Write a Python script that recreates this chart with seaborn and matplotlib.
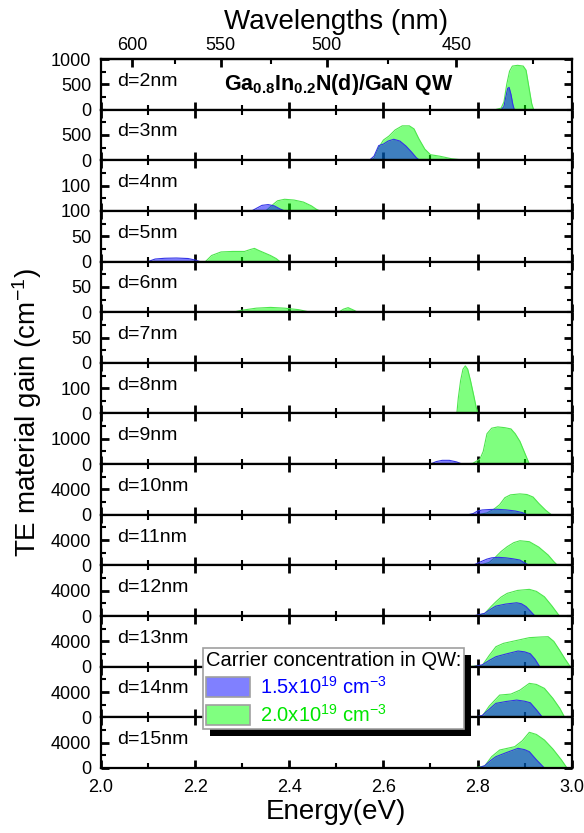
import numpy as np
import matplotlib
matplotlib.use("Agg")
import matplotlib.pyplot as plt
import seaborn as sns
from matplotlib.patches import Patch, Rectangle
from matplotlib.ticker import MultipleLocator, FixedLocator, FormatStrFormatter
from matplotlib.transforms import IdentityTransform

# -----------------------------
# Data
# -----------------------------
widths = [2, 3, 4, 5, 6, 7, 8, 9, 10, 11, 12, 13, 14, 15]
y_max = [1000, 1000, 200, 100, 100, 100, 200, 2000, 8000, 8000, 8000, 8000, 8000, 8000]
y_ticks = [[0, 500, 1000], [0, 500], [0, 100], [0, 50], [0, 50], [0, 50], [0, 100], [0, 1000],
           [0, 4000], [0, 4000], [0, 4000], [0, 4000], [0, 4000], [0, 4000]]
y_ticklabels = [["0", "500", "1000"], ["0", "500"], ["100", "100"], ["0", "50"], ["0", "50"], ["0", "50"],
                ["0", "100"], ["0", "1000"], ["0", "4000"], ["0", "4000"], ["0", "4000"], ["0", "4000"],
                ["0", "4000"], ["0", "4000"]]

# n = 2.0e19 cm^-3 (green)
e_hi = {
    2: [2.35, 2.838, 2.850, 2.856, 2.862, 2.868, 2.874, 2.885, 2.897, 2.903, 2.909, 2.915, 2.919],
    3: [2.10, 2.570, 2.580, 2.590, 2.600, 2.612, 2.625, 2.640, 2.655, 2.665, 2.675, 2.688, 2.700, 2.720, 2.745, 2.775],
    4: [2.350, 2.362, 2.375, 2.390, 2.410, 2.430, 2.447, 2.458, 2.465],
    5: [2.222, 2.235, 2.255, 2.280, 2.305, 2.318, 2.326, 2.335, 2.345, 2.360, 2.372, 2.380],
    6: [2.28, 2.300, 2.330, 2.360, 2.390, 2.420, 2.445, 2.505, 2.515, 2.525, 2.537, 2.545],
    7: [2.0, 3.0],
    8: [2.756, 2.759, 2.764, 2.769, 2.774, 2.779, 2.785, 2.792, 2.797, 2.801],
    9: [2.760, 2.790, 2.805, 2.812, 2.820, 2.830, 2.843, 2.858, 2.871, 2.880, 2.890, 2.900, 2.910],
    10: [2.800, 2.820, 2.835, 2.847, 2.858, 2.870, 2.890, 2.905, 2.918, 2.930, 2.945, 2.957],
    11: [2.805, 2.825, 2.839, 2.850, 2.863, 2.877, 2.890, 2.910, 2.930, 2.950, 2.962, 2.970],
    12: [2.795, 2.815, 2.830, 2.839, 2.850, 2.863, 2.885, 2.910, 2.925, 2.942, 2.958, 2.974],
    13: [2.780, 2.810, 2.825, 2.839, 2.855, 2.880, 2.910, 2.935, 2.950, 2.962, 2.974, 2.986, 2.997],
    14: [2.780, 2.810, 2.825, 2.847, 2.871, 2.890, 2.910, 2.925, 2.942, 2.960, 2.975, 2.985],
    15: [2.790, 2.815, 2.830, 2.847, 2.879, 2.895, 2.910, 2.925, 2.942, 2.960, 2.978, 2.990],
}
g_hi = {
    2: [0, 0, 30, 150, 500, 760, 860, 875, 860, 780, 450, 120, 0],
    3: [0, 0, 40, 250, 400, 480, 600, 680, 680, 620, 430, 220, 110, 80, 30, 0],
    4: [0, 20, 40, 46, 43, 35, 20, 6, 0],
    5: [0, 12, 19, 20, 20, 24, 26, 22, 18, 12, 6, 0],
    6: [0, 4, 8, 9.5, 8, 5, 0, 0, 6, 9, 4, 0],
    7: [0, 0],
    8: [0, 60, 130, 175, 188, 175, 130, 70, 25, 0],
    9: [0, 30, 200, 500, 1200, 1420, 1470, 1440, 1390, 1200, 900, 450, 0],
    10: [0, 300, 900, 1600, 2700, 3150, 3300, 3200, 2800, 1800, 700, 0],
    11: [0, 500, 1380, 2200, 2960, 3600, 3900, 3750, 2900, 1640, 600, 0],
    12: [0, 400, 1600, 2260, 3000, 3590, 4050, 4220, 3900, 3050, 1600, 0],
    13: [0, 200, 1800, 3160, 3690, 4100, 4590, 4700, 4740, 4000, 2640, 1200, 0],
    14: [0, 200, 1800, 3520, 3680, 4300, 5370, 5200, 4580, 3000, 1400, 0],
    15: [0, 300, 1800, 2840, 3370, 4300, 5640, 5300, 4420, 3000, 1300, 0],
}

# n = 1.5e19 cm^-3 (blue)
e_lo = {
    2: [2.850, 2.856, 2.860, 2.864, 2.867, 2.871, 2.875, 2.878],
    3: [2.08, 2.570, 2.580, 2.590, 2.600, 2.610, 2.622, 2.635, 2.648, 2.660, 2.670, 2.677],
    4: [2.00, 2.320, 2.330, 2.342, 2.355, 2.368, 2.380, 2.390],
    5: [2.100, 2.115, 2.135, 2.160, 2.185, 2.200, 2.210],
    6: [2.0, 2.6],
    7: [2.0, 3.0],
    8: [2.0, 3.0],
    9: [2.04, 2.21, 2.70, 2.712, 2.725, 2.740, 2.755, 2.768],
    10: [2.17, 2.78, 2.791, 2.800, 2.810, 2.825, 2.840, 2.860, 2.880, 2.895, 2.905],
    11: [2.25, 2.79, 2.807, 2.820, 2.830, 2.843, 2.860, 2.875, 2.890, 2.900, 2.910],
    12: [2.20, 2.79, 2.815, 2.828, 2.839, 2.860, 2.883, 2.893, 2.903, 2.912, 2.922],
    13: [2.30, 2.79, 2.810, 2.825, 2.839, 2.860, 2.886, 2.900, 2.912, 2.922, 2.932],
    14: [2.30, 2.79, 2.810, 2.825, 2.839, 2.860, 2.883, 2.900, 2.912, 2.925, 2.938],
    15: [2.30, 2.80, 2.815, 2.828, 2.839, 2.860, 2.886, 2.900, 2.910, 2.925, 2.942],
}
g_lo = {
    2: [0, 60, 250, 420, 440, 300, 100, 0],
    3: [0, 0, 80, 290, 320, 380, 415, 380, 280, 160, 50, 0],
    4: [0, 0, 10, 22, 25, 20, 8, 0],
    5: [0, 5, 6.5, 7, 6, 3, 0],
    6: [0, 0],
    7: [0, 0],
    8: [0, 0],
    9: [0, 0, 0, 100, 150, 150, 90, 0],
    10: [0, 0, 200, 600, 760, 830, 870, 780, 600, 350, 0],
    11: [0, 0, 590, 1000, 1200, 1280, 1200, 1050, 850, 400, 0],
    12: [0, 0, 430, 1100, 1580, 1900, 2100, 1950, 1500, 800, 0],
    13: [0, 0, 300, 1000, 1580, 2000, 2480, 2350, 2050, 1200, 0],
    14: [0, 0, 300, 1300, 2210, 2500, 2730, 2550, 2310, 1200, 0],
    15: [0, 0, 350, 1200, 1790, 2400, 3110, 2900, 2580, 1300, 0],
}

wl_major = [600, 550, 500, 450]
wl_minor = [575, 525, 475, 425]
legend_labels = ["1.5x10$^{19}$ cm$^{-3}$", "2.0x10$^{19}$ cm$^{-3}$"]

# -----------------------------
# Style
# -----------------------------
sns.set_style("ticks")
plt.rcParams.update({
    "font.family": ["Liberation Sans", "DejaVu Sans"],
    "mathtext.fontset": "custom",
    "mathtext.rm": "Liberation Sans",
    "mathtext.it": "Liberation Sans:italic",
    "mathtext.bf": "Liberation Sans:bold",
    "text.color": "black",
    "axes.labelcolor": "black",
    "axes.edgecolor": "black",
    "xtick.color": "black",
    "ytick.color": "black",
    "xtick.direction": "in",
    "ytick.direction": "in",
})

GREEN_FILL = (0, 1, 0, 0.5)
BLUE_FILL = (0, 0, 1, 0.5)
TICK_C = (0.0, 0.0, 0.0)

W, H = 584, 833
fig = plt.figure(figsize=(W / 100, H / 100), dpi=100)
gs = fig.add_gridspec(len(widths), 1, left=101 / W, right=571.7 / W,
                      bottom=1 - 768 / H, top=1 - 59 / H, hspace=0)
axes = [fig.add_subplot(gs[i]) for i in range(len(widths))]

for i, (ax, d) in enumerate(zip(axes, widths)):
    ax.fill_between(e_hi[d], g_hi[d], 0, color=GREEN_FILL, lw=0, zorder=1)
    sns.lineplot(x=e_hi[d], y=g_hi[d], ax=ax, color=(0.3, 0.9, 0.3), lw=0.8,
                 sort=False, estimator=None, zorder=1.5)
    ax.fill_between(e_lo[d], g_lo[d], 0, color=BLUE_FILL, lw=0, zorder=2)
    sns.lineplot(x=e_lo[d], y=g_lo[d], ax=ax, color=(0.2, 0.2, 0.9), lw=0.8,
                 sort=False, estimator=None, zorder=2.2)

    ax.set_xlim(2.0, 3.0)
    ax.set_ylim(0, y_max[i])
    ax.yaxis.set_major_locator(FixedLocator(y_ticks[i]))
    ax.set_yticklabels(y_ticklabels[i])
    ax.yaxis.set_minor_locator(MultipleLocator(y_ticks[i][1] / 2))
    ax.xaxis.set_major_locator(MultipleLocator(0.2))
    ax.xaxis.set_minor_locator(MultipleLocator(0.1))
    ax.xaxis.set_major_formatter(FormatStrFormatter("%.1f"))

    ax.tick_params(axis="both", which="major", length=5.5, width=2, color=TICK_C, direction="in",
                   top=(i > 0), right=True)
    ax.tick_params(axis="both", which="minor", length=3.5, width=1.5, color=TICK_C, direction="in",
                   top=(i > 0), right=True)
    ax.tick_params(axis="both", labelsize=13)
    ax.tick_params(axis="y", pad=7)
    ax.tick_params(axis="x", pad=8, labelbottom=(i == len(widths) - 1))
    for sp in ax.spines.values():
        sp.set_linewidth(1.6)
    ax.set_xlabel("")
    ax.set_ylabel("")
    ax.text(0.034, 0.56, f"d={d}nm", transform=ax.transAxes, fontsize=14,
            ha="left", va="center")

# title inside first panel
axes[0].text(0.505, 0.5, r"Ga$_{\mathbf{0.8}}$In$_{\mathbf{0.2}}$N(d)/GaN QW",
             transform=axes[0].transAxes, fontsize=15.5, fontweight="bold",
             ha="center", va="center")

# top wavelength axis
secax = axes[0].secondary_xaxis("top", functions=(lambda e: 1239.84 / np.maximum(e, 1e-6),
                                                  lambda w: 1239.84 / np.maximum(w, 1e-6)))
secax.xaxis.set_major_locator(FixedLocator(wl_major))
secax.xaxis.set_minor_locator(FixedLocator(wl_minor))
secax.tick_params(which="major", length=6, width=2, color=TICK_C, direction="in",
                  labelsize=13, pad=3.5)
secax.tick_params(which="minor", length=3.5, width=1.5, color=TICK_C, direction="in")
secax.spines["top"].set_linewidth(1.6)
secax.set_xlabel("Wavelengths (nm)", fontsize=20, labelpad=6)

axes[-1].set_xlabel("Energy(eV)", fontsize=20, labelpad=2)
fig.text(27 / W, 1 - 413 / H, "TE material gain (cm$^{-1}$)", rotation=90,
         fontsize=20, ha="center", va="center")

# legend with solid black drop shadow
handles = [Patch(facecolor=(0.5, 0.5, 1.0), edgecolor="#a0a0a0", lw=1.2),
           Patch(facecolor=(0.5, 1.0, 0.5), edgecolor="#a0a0a0", lw=1.2)]
leg = fig.legend(handles, legend_labels, loc="upper left",
                 bbox_to_anchor=(203 / W, 1 - 648 / H), borderaxespad=0,
                 title="Carrier concentration in QW:", title_fontsize=14.5, fontsize=14.5,
                 frameon=True, fancybox=False, framealpha=1, edgecolor="#a0a0a0",
                 borderpad=0.15, handlelength=2.2, handleheight=1.1, handletextpad=0.5,
                 labelspacing=0.3, alignment="left", labelcolor=["blue", "#00e600"])
leg.get_frame().set_linewidth(1.2)
leg.set_zorder(10)

fig.canvas.draw()
bb = leg.get_window_extent()
shadow = Rectangle((bb.x0 + 7, bb.y0 - 7), bb.width, bb.height, transform=IdentityTransform(),
                   facecolor="black", edgecolor="none", zorder=9)
fig.add_artist(shadow)

fig.savefig("out.png", dpi=100)
